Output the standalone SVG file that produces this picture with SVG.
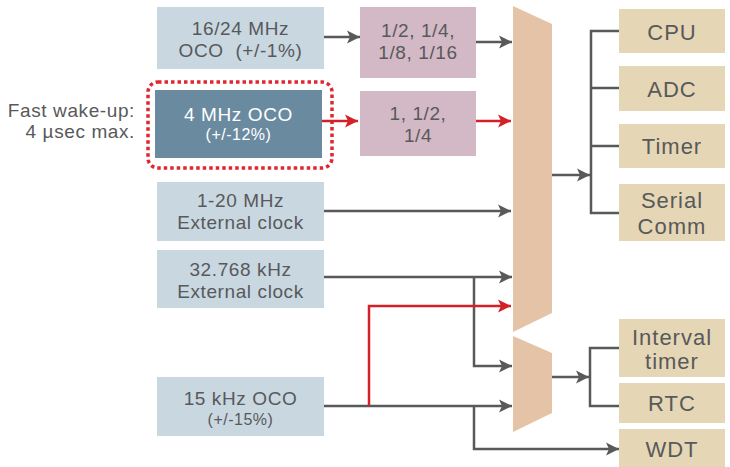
<svg xmlns="http://www.w3.org/2000/svg" width="730" height="467" viewBox="0 0 730 467">
<defs>
<style>
text{font-family:"Liberation Sans",Arial,sans-serif;fill:#58595b;text-anchor:middle}
.t{font-size:19px;letter-spacing:0.6px}
.s{font-size:16px;letter-spacing:0.5px}
.r{font-size:22px;letter-spacing:1px}
.src{fill:#c9d7e1}
.dark{fill:#6a8aa0}
.div{fill:#d3b8c5}
.mux{fill:#e5c3a7}
.out{fill:#e5d6b5}
.ln{fill:none;stroke:#58595b;stroke-width:2.5}
.red{fill:none;stroke:#d42027;stroke-width:2.5}
</style>
<marker id="ag" markerUnits="userSpaceOnUse" markerWidth="14" markerHeight="14" viewBox="0 -7 14 14" refX="13" refY="0" orient="auto"><path d="M0,-6.5 L13,0 L0,6.5 L3,0 z" fill="#58595b"/></marker>
<marker id="ar" markerUnits="userSpaceOnUse" markerWidth="14" markerHeight="14" viewBox="0 -7 14 14" refX="13" refY="0" orient="auto"><path d="M0,-6.5 L13,0 L0,6.5 L3,0 z" fill="#d42027"/></marker>
</defs>
<rect width="730" height="467" fill="#ffffff"/>

<g id="note">
<text class="t" x="135" y="117" style="text-anchor:end">Fast wake-up:</text>
<text class="t" x="135" y="138" style="text-anchor:end">4 µsec max.</text>
</g>

<g id="oco16">
<rect class="src" x="157" y="7" width="167" height="62"/>
<text class="t" x="240.5" y="35">16/24 MHz</text>
<text class="t" x="240.5" y="57">OCO&#160;&#160;(+/-1%)</text>
</g>

<g id="oco4">
<rect x="148" y="82" width="184" height="86" rx="10" fill="none" stroke="#e0262e" stroke-width="3.5" stroke-dasharray="3.5 3"/>
<rect class="dark" x="155" y="90" width="167" height="68"/>
<text class="t" x="238.5" y="121" style="fill:#fff">4 MHz OCO</text>
<text class="s" x="238.5" y="140" style="fill:#fff">(+/-12%)</text>
</g>

<g id="ext20">
<rect class="src" x="157" y="182" width="167" height="59"/>
<text class="t" x="240.5" y="207">1-20 MHz</text>
<text class="t" x="240.5" y="229">External clock</text>
</g>

<g id="ext32">
<rect class="src" x="157" y="250" width="167" height="58"/>
<text class="t" x="240.5" y="276">32.768 kHz</text>
<text class="t" x="240.5" y="298">External clock</text>
</g>

<g id="oco15">
<rect class="src" x="157" y="377" width="167" height="59"/>
<text class="t" x="240.5" y="405">15 kHz OCO</text>
<text class="s" x="240.5" y="425">(+/-15%)</text>
</g>

<g id="div1">
<rect class="div" x="360" y="7" width="116" height="71"/>
<text class="t" x="418" y="37">1/2, 1/4,</text>
<text class="t" x="418" y="59">1/8, 1/16</text>
</g>

<g id="div2">
<rect class="div" x="360" y="91" width="116" height="65"/>
<text class="t" x="418" y="120">1, 1/2,</text>
<text class="t" x="418" y="142">1/4</text>
</g>

<g id="mux1">
<polygon class="mux" points="513,6 552,24 552,313 513,332"/>
</g>
<g id="mux2">
<polygon class="mux" points="513,336 552,353 552,413 513,432"/>
</g>

<g id="cpu"><rect class="out" x="619" y="9" width="106" height="44"/><text class="r" x="672" y="40">CPU</text></g>
<g id="adc"><rect class="out" x="619" y="66" width="106" height="45"/><text class="r" x="672" y="97">ADC</text></g>
<g id="timer"><rect class="out" x="619" y="124" width="106" height="44"/><text class="r" x="672" y="154">Timer</text></g>
<g id="serial"><rect class="out" x="619" y="184" width="106" height="57"/><text class="r" x="672" y="208">Serial</text><text class="r" x="672" y="234">Comm</text></g>
<g id="interval"><rect class="out" x="619" y="319" width="106" height="58"/><text class="r" x="672" y="345">Interval</text><text class="r" x="672" y="369">timer</text></g>
<g id="rtc"><rect class="out" x="619" y="383" width="106" height="40"/><text class="r" x="672" y="411">RTC</text></g>
<g id="wdt"><rect class="out" x="619" y="429" width="106" height="40"/><text class="r" x="672" y="457">WDT</text></g>

<g id="connectors">
<path class="ln" d="M324,37 H360" marker-end="url(#ag)"/>
<path class="ln" d="M476,42 H512" marker-end="url(#ag)"/>
<path class="red" d="M322,121 H358" marker-end="url(#ar)"/>
<path class="red" d="M476,121 H511" marker-end="url(#ar)"/>
<path class="ln" d="M324,211 H511" marker-end="url(#ag)"/>
<path class="ln" d="M324,277 H512" marker-end="url(#ag)"/>
<path class="ln" d="M474,277 V366 H512" marker-end="url(#ag)"/>
<path class="ln" d="M324,406 H512" marker-end="url(#ag)"/>
<path class="ln" d="M474,406 V449 H619" marker-end="url(#ag)"/>
<path class="red" d="M369,406 V306 H511" marker-end="url(#ar)"/>
<path class="ln" d="M552,175 H590" marker-end="url(#ag)"/>
<path class="ln" d="M619,31 H591 V213 H619 M591,88 H619 M591,146 H619"/>
<path class="ln" d="M552,377 H589" marker-end="url(#ag)"/>
<path class="ln" d="M619,348 H590 V406 H619"/>
</g>
</svg>
